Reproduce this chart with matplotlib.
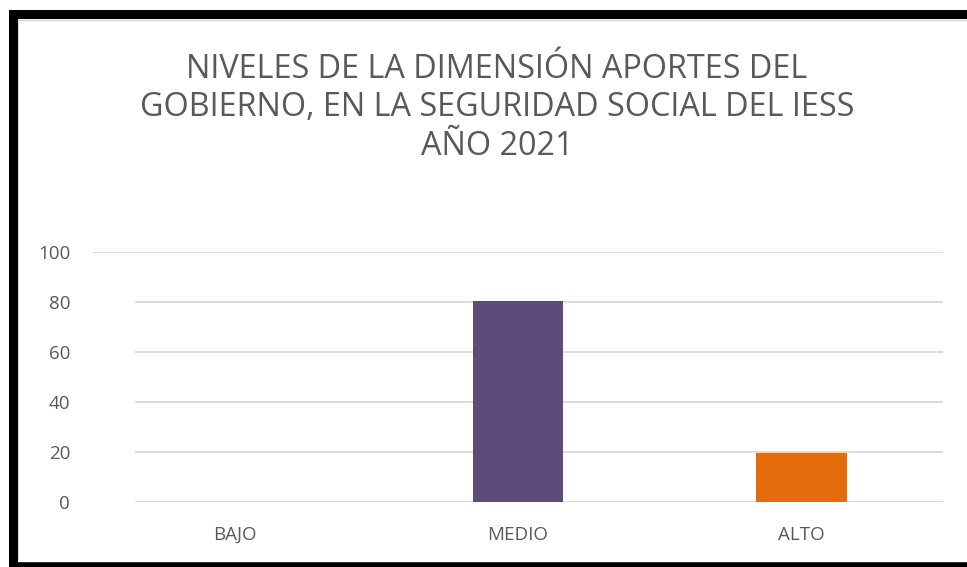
import matplotlib.pyplot as plt
from matplotlib.patches import Rectangle

# datos
categorias = ["BAJO", "MEDIO", "ALTO"]
porcentajes = [0, 80.4, 19.6]
colores = ["#5f4b7a", "#5f4b7a", "#e46c0a"]
yticks = [0, 20, 40, 60, 80, 100]
titulo = "NIVELES DE LA DIMENSIÓN APORTES DEL\nGOBIERNO, EN LA SEGURIDAD SOCIAL DEL IESS\nAÑO 2021"

W, H = 967, 567
plt.rcParams['font.family'] = ['Open Sans', 'DejaVu Sans']
gris = "#595959"

fig = plt.figure(figsize=(W / 100, H / 100), dpi=100)
fig.patch.set_facecolor("white")

# borde negro exterior + linea gris interior
fig.add_artist(Rectangle((12.5 / W, -0.01), 1.2, 1 - 14.5 / H + 0.01,
                         transform=fig.transFigure, fill=False,
                         edgecolor="black", linewidth=6.5))
fig.add_artist(plt.Line2D([17.5 / W, 17.5 / W], [8 / H, 1 - 19.5 / H],
                          transform=fig.transFigure, color="#d0d0d0", lw=0.8))
fig.add_artist(plt.Line2D([17.5 / W, 1], [1 - 19.5 / H, 1 - 19.5 / H],
                          transform=fig.transFigure, color="#d0d0d0", lw=0.8))
# linea negra inferior
fig.add_artist(plt.Line2D([12.5 / W, 1], [2 / H, 2 / H],
                          transform=fig.transFigure, color="black", lw=4))

ax = fig.add_axes([93 / W, 1 - 502 / H, 850 / W, 250 / H])
x = range(len(categorias))
ax.bar(x, porcentajes, width=0.32, color=colores, zorder=3)

ax.set_xlim(-0.5, 2.5)
ax.set_ylim(0, 100)
for v in yticks:
    ax.axhline(v, xmin=0 if v == 100 else 0.05, xmax=1, color="#d9d9d9", lw=1.3, zorder=1)

ax.set_yticks(yticks)
ax.set_xticks(list(x))
ax.set_xticklabels(categorias)
ax.tick_params(axis="y", length=0, pad=16.5, labelsize=13.5, labelcolor=gris)
ax.tick_params(axis="x", length=0, pad=17, labelsize=13.5, labelcolor=gris)
for s in ax.spines.values():
    s.set_visible(False)

fig.text(497 / W, 1 - 53 / H, titulo, ha="center", va="top", fontsize=23.3,
         color=gris, linespacing=1.22)

fig.savefig("out.png", dpi=100)
